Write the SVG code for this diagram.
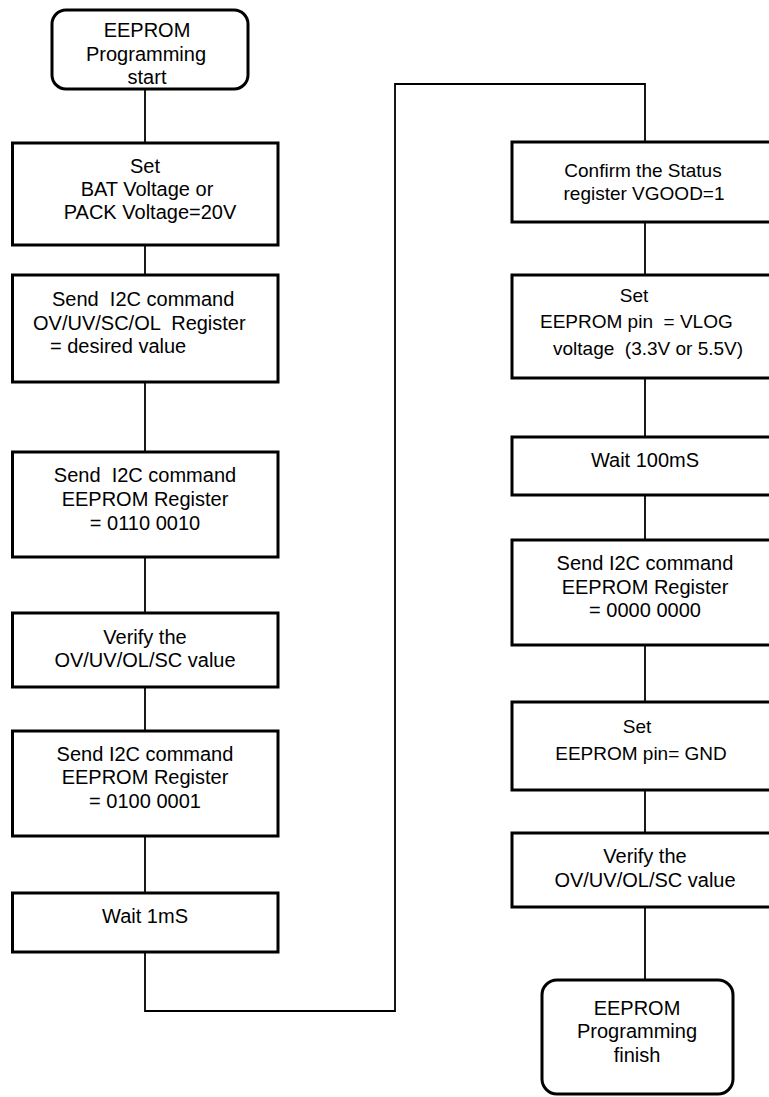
<svg xmlns="http://www.w3.org/2000/svg" width="769" height="1097" viewBox="0 0 769 1097">
  <style>
    .box { fill: #ffffff; stroke: #000000; stroke-width: 3; }
    .term { fill: #ffffff; stroke: #000000; stroke-width: 3; }
    .wire { fill: none; stroke: #000000; stroke-width: 1.8; }
    text { font-family: "Liberation Sans", Arial, sans-serif; font-size: 20px; fill: #000000; }
    .c { text-anchor: middle; }
    .sm { font-size: 19px; }
  </style>
  <rect width="769" height="1097" fill="#ffffff"/>

  <!-- connectors -->
  <g id="connectors">
    <line class="wire" x1="145" y1="80" x2="145" y2="143"/>
    <line class="wire" x1="145" y1="245" x2="145" y2="275"/>
    <line class="wire" x1="145" y1="382" x2="145" y2="452"/>
    <line class="wire" x1="145" y1="557" x2="145" y2="613"/>
    <line class="wire" x1="145" y1="687" x2="145" y2="731"/>
    <line class="wire" x1="145" y1="836" x2="145" y2="893"/>
    <polyline class="wire" points="145,952 145,1011 395,1011 395,84 645,84 645,142"/>
    <line class="wire" x1="645" y1="222" x2="645" y2="275"/>
    <line class="wire" x1="645" y1="378" x2="645" y2="437"/>
    <line class="wire" x1="645" y1="495" x2="645" y2="540"/>
    <line class="wire" x1="645" y1="645" x2="645" y2="702"/>
    <line class="wire" x1="645" y1="790" x2="645" y2="833"/>
    <line class="wire" x1="645" y1="907" x2="645" y2="980"/>
  </g>

  <!-- left column -->
  <g id="start">
    <rect class="term" x="52" y="10" width="196" height="79" rx="14"/>
    <text class="c" x="147" y="37">EEPROM</text>
    <text class="c" x="146" y="61">Programming</text>
    <text class="c" x="147" y="84">start</text>
  </g>
  <g id="set-voltage">
    <rect class="box" x="12.5" y="143" width="265.5" height="102"/>
    <text class="c" x="145" y="173">Set</text>
    <text class="c" x="147" y="196">BAT Voltage or</text>
    <text class="c" x="150" y="219">PACK Voltage=20V</text>
  </g>
  <g id="write-thresholds">
    <rect class="box" x="12.5" y="275" width="265.5" height="107"/>
    <text x="52" y="306" xml:space="preserve">Send  I2C command</text>
    <text x="33" y="330" xml:space="preserve">OV/UV/SC/OL  Register</text>
    <text x="50" y="353">= desired value</text>
  </g>
  <g id="eeprom-0110">
    <rect class="box" x="12.5" y="452" width="265.5" height="105"/>
    <text class="c" x="145" y="482" xml:space="preserve">Send  I2C command</text>
    <text class="c" x="145" y="506">EEPROM Register</text>
    <text class="c" x="145" y="530">= 0110 0010</text>
  </g>
  <g id="verify-1">
    <rect class="box" x="12.5" y="613" width="265.5" height="74"/>
    <text class="c" x="145" y="644">Verify the</text>
    <text class="c" x="145" y="667">OV/UV/OL/SC value</text>
  </g>
  <g id="eeprom-0100">
    <rect class="box" x="12.5" y="731" width="265.5" height="105"/>
    <text class="c" x="145" y="761">Send I2C command</text>
    <text class="c" x="145" y="784">EEPROM Register</text>
    <text class="c" x="145" y="808">= 0100 0001</text>
  </g>
  <g id="wait-1ms">
    <rect class="box" x="12.5" y="893" width="265.5" height="59"/>
    <text class="c" x="145" y="923">Wait 1mS</text>
  </g>

  <!-- right column (boxes run off the right edge) -->
  <g id="confirm-vgood">
    <rect class="box" x="512" y="142" width="266" height="80"/>
    <text class="c sm" x="643" y="177">Confirm the Status</text>
    <text class="c sm" x="644" y="200">register VGOOD=1</text>
  </g>
  <g id="eeprom-vlog">
    <rect class="box" x="512" y="275" width="266" height="103"/>
    <text class="c sm" x="634" y="302">Set</text>
    <text class="sm" x="540" y="328" xml:space="preserve">EEPROM pin  = VLOG</text>
    <text class="sm" x="553" y="355" xml:space="preserve">voltage  (3.3V or 5.5V)</text>
  </g>
  <g id="wait-100ms">
    <rect class="box" x="512" y="437" width="266" height="58"/>
    <text class="c" x="645" y="467">Wait 100mS</text>
  </g>
  <g id="eeprom-0000">
    <rect class="box" x="512" y="540" width="266" height="105"/>
    <text class="c" x="645" y="570">Send I2C command</text>
    <text class="c" x="645" y="594">EEPROM Register</text>
    <text class="c" x="645" y="617">= 0000 0000</text>
  </g>
  <g id="eeprom-gnd">
    <rect class="box" x="512" y="702" width="266" height="88"/>
    <text class="c sm" x="637" y="733">Set</text>
    <text class="c sm" x="641" y="760">EEPROM pin= GND</text>
  </g>
  <g id="verify-2">
    <rect class="box" x="512" y="833" width="266" height="74"/>
    <text class="c" x="645" y="863">Verify the</text>
    <text class="c" x="645" y="887">OV/UV/OL/SC value</text>
  </g>
  <g id="finish">
    <rect class="term" x="542" y="980" width="191" height="114" rx="15"/>
    <text class="c" x="637" y="1015">EEPROM</text>
    <text class="c" x="637" y="1038">Programming</text>
    <text class="c" x="637" y="1062">finish</text>
  </g>
</svg>
